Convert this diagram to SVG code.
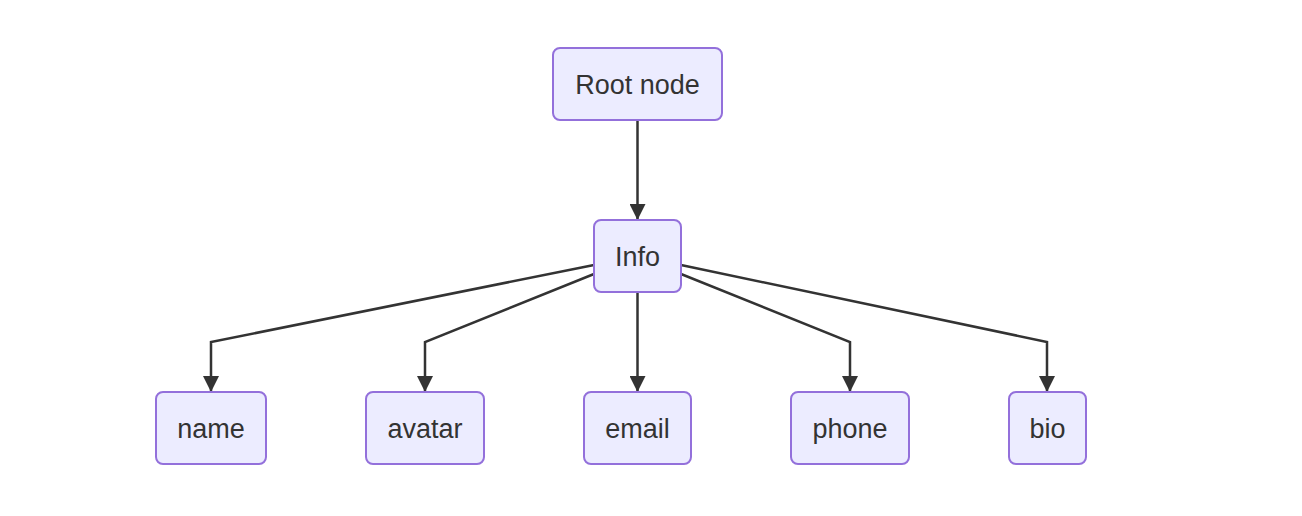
<svg xmlns="http://www.w3.org/2000/svg" width="1302" height="516" viewBox="0 0 1302 516">
<style>
.node rect{fill:#ECECFF;stroke:#9370DB;stroke-width:2}
.node text{font-family:"Liberation Sans",Arial,sans-serif;font-size:27px;fill:#333;text-anchor:middle}
.edge{fill:none;stroke:#333;stroke-width:2.5}
</style>
<defs>
<marker id="arrow" viewBox="0 0 10 10" refX="10" refY="5" markerUnits="userSpaceOnUse" markerWidth="16" markerHeight="16" orient="auto">
<path d="M0,0 L10,5 L0,10 z" fill="#333"/>
</marker>
</defs>
<rect width="1302" height="516" fill="#fff"/>
<g id="connectors">
<path class="edge" d="M637.5,120 L637.5,220" marker-end="url(#arrow)"/>
<path class="edge" d="M594,265 L211,342 L211,392" marker-end="url(#arrow)"/>
<path class="edge" d="M594,274 L425,342 L425,392" marker-end="url(#arrow)"/>
<path class="edge" d="M637.5,292 L637.5,392" marker-end="url(#arrow)"/>
<path class="edge" d="M681,274 L850,342 L850,392" marker-end="url(#arrow)"/>
<path class="edge" d="M681,265 L1047,342 L1047,392" marker-end="url(#arrow)"/>
</g>
<g id="root" class="node"><rect x="553" y="48" width="169" height="72" rx="7"/><text x="637.5" y="94">Root node</text></g>
<g id="info" class="node"><rect x="594" y="220" width="87" height="72" rx="7"/><text x="637.5" y="266">Info</text></g>
<g id="name" class="node"><rect x="156" y="392" width="110" height="72" rx="7"/><text x="211" y="438">name</text></g>
<g id="avatar" class="node"><rect x="366" y="392" width="118" height="72" rx="7"/><text x="425" y="438">avatar</text></g>
<g id="email" class="node"><rect x="584" y="392" width="107" height="72" rx="7"/><text x="637.5" y="438">email</text></g>
<g id="phone" class="node"><rect x="791" y="392" width="118" height="72" rx="7"/><text x="850" y="438">phone</text></g>
<g id="bio" class="node"><rect x="1009" y="392" width="77" height="72" rx="7"/><text x="1047.5" y="438">bio</text></g>
</svg>
